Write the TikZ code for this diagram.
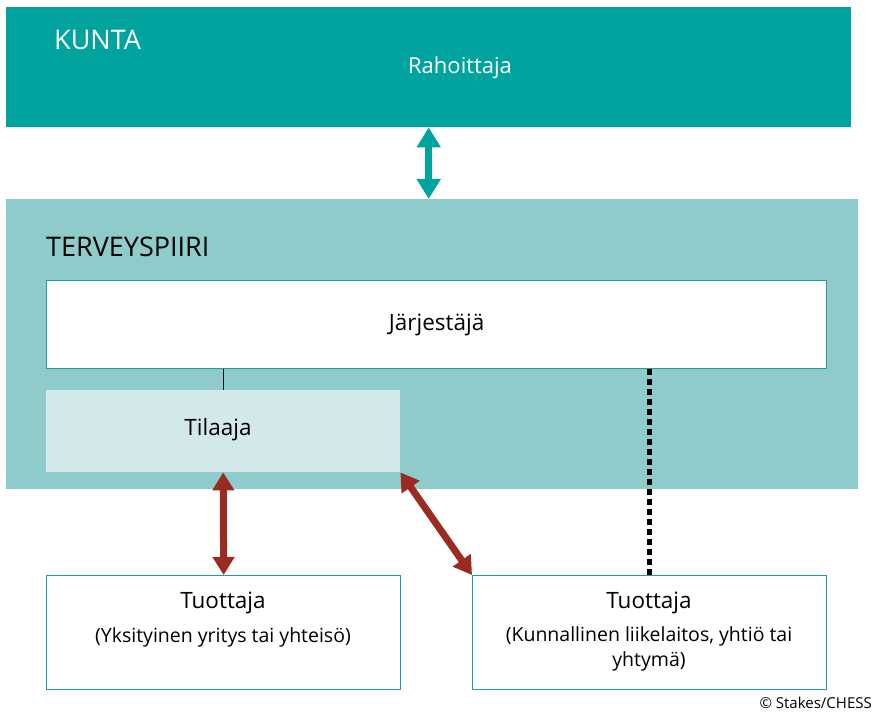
\documentclass[tikz,border=0pt]{standalone}
\usepackage{fontspec}
\setmainfont{Open Sans}
\usepackage{xcolor}
\usetikzlibrary{positioning, arrows.meta}
\definecolor{kuntateal}{HTML}{00A39E}
\definecolor{piirteal}{HTML}{8FCBCA}
\definecolor{tilaajafill}{HTML}{D3E9E9}
\definecolor{edgeteal}{HTML}{1AA19C}
\definecolor{arrowred}{HTML}{9B2B22}
\tikzset{
  areabox/.style={
  rectangle,
  draw=none,
  anchor=north west,
  inner sep=0pt
  },
  whitebox/.style={
  rectangle,
  draw=edgeteal,
  fill=white,
  line width=1.3pt,
  anchor=north west,
  inner sep=0pt
  },
  boxtext/.style={
  inner sep=0pt,
  align=center,
  font=\fontsize{22.5}{27}\selectfont
  },
  subtext/.style={
  inner sep=0pt,
  align=center,
  font=\fontsize{19.5}{25}\selectfont
  },
  tealarrow/.style={
  draw=kuntateal,
  line width=7pt,
  {Triangle[width=23pt,length=20pt]}-{Triangle[width=23pt,length=20pt]}
  },
  redarrow/.style={
  draw=arrowred,
  line width=7pt,
  {Triangle[width=21pt,length=18pt]}-{Triangle[width=21pt,length=18pt]}
  }
}

\begin{document}
\begin{tikzpicture}[x=1pt, y=-1pt]

\useasboundingbox (0,0) rectangle (874,711);

% Areas
\node (kunta) [areabox, fill=kuntateal, minimum width=845pt, minimum height=120pt] at (6,7) {};
\node (terveys) [areabox, fill=piirteal, minimum width=852pt, minimum height=290pt] at (6,199) {};

% Boxes
\node (jarj) [whitebox, minimum width=780pt, minimum height=88pt] at (46,280) {};
\node (tilaaja) [areabox, fill=tilaajafill, minimum width=354pt, minimum height=82pt] at (46,390) {};
\node (tuot1) [whitebox, minimum width=354pt, minimum height=114pt] at (46,575) {};
\node (tuot2) [whitebox, minimum width=354pt, minimum height=114pt] at (472,575) {};

% Texts
\node (kuntalabel) [inner sep=0pt, anchor=west, text=white, font=\fontsize{27}{31}\selectfont] at (54,40) {KUNTA};
\node (rahoittaja) [boxtext, text=white, font=\fontsize{22}{26}\selectfont] at (460,68) {Rahoittaja};
\node (terveyslabel) [inner sep=0pt, anchor=west, font=\fontsize{27}{31}\selectfont] at (46,247) {TERVEYSPIIRI};
\node (jarjtext) [boxtext] at (jarj.center) {Järjestäjä};
\node (tilaajatext) [boxtext] at (218,430) {Tilaaja};
\node (tuot1title) [boxtext] at (223,603) {Tuottaja};
\node (tuot1sub) [subtext] at (223,637) {(Yksityinen yritys tai yhteisö)};
\node (tuot2title) [boxtext] at (649,603) {Tuottaja};
\node (tuot2sub) [subtext, anchor=north] at (649,626) {(Kunnallinen liikelaitos, yhtiö tai\\yhtymä)};
\node (copyright) [inner sep=0pt, anchor=east, font=\fontsize{15}{17}\selectfont] at (872,703) {© Stakes/CHESS};

% Arrows
\draw [tealarrow] (kunta.south) -- (kunta.south |- terveys.north);
\draw [redarrow] (tilaaja.south) -- (tuot1.north);
\draw [redarrow] (tilaaja.south east) -- (tuot2.north west);

% Links
\draw [line width=1.3pt] (tilaaja.north |- jarj.south) -- (tilaaja.north);
\draw [line width=5pt, dash pattern=on 6pt off 4pt] (tuot2.north |- jarj.south) -- ([yshift=-4pt]tuot2.north);

\end{tikzpicture}
\end{document}
